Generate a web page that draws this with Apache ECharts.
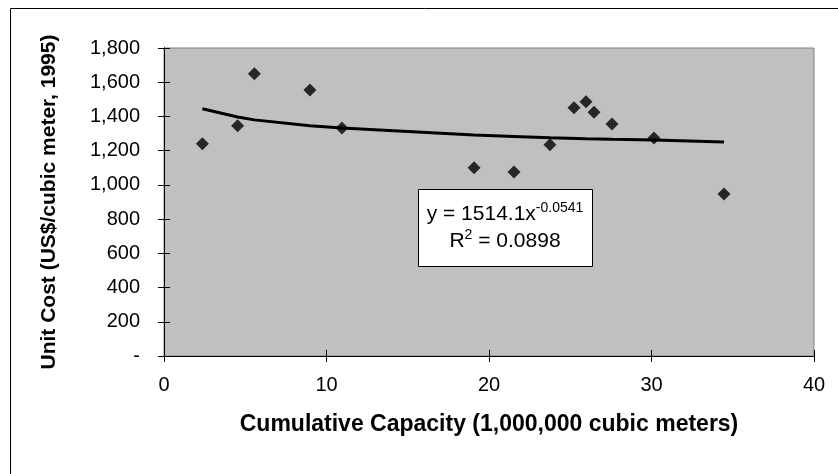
<!DOCTYPE html>
<html>
<head>
<meta charset="utf-8">
<script src="https://cdn.jsdelivr.net/npm/echarts@6/dist/echarts.min.js"></script>
<style>html,body{margin:0;padding:0;background:#fff}#c{width:838px;height:474px}</style>
</head>
<body>
<div id="c"></div>
<script>
var capacity = [2.36, 4.53, 5.56, 8.98, 10.95, 19.08, 21.54, 23.75, 25.23, 25.97, 26.46, 27.57, 30.15, 34.46];
var unitCost = [1240, 1345, 1650, 1555, 1333, 1100, 1075, 1235, 1451, 1486, 1424, 1356, 1274, 947];
// Trend line values
var trendX = [2.36, 4.53, 5.56, 8.98, 10.95, 19.08, 21.54, 23.75, 25.97, 27.57, 30.15, 34.46];
var trendY = [1445, 1397, 1380, 1345, 1333, 1291, 1283, 1276, 1270, 1266, 1262, 1250];
var xTicks = [0, 10, 20, 30, 40];
var yTicks = [0, 200, 400, 600, 800, 1000, 1200, 1400, 1600, 1800];
var eqLine1 = 'y = 1514.1x';
var eqExp = '-0.0541';
var eqLine2a = 'R';
var eqLine2b = '2';
var eqLine2c = ' = 0.0898';
var xTitle = 'Cumulative Capacity (1,000,000 cubic meters)';
var yTitle = 'Unit Cost (US$/cubic meter, 1995)';

var FONT = '"Liberation Sans", Arial, sans-serif';
var chart = echarts.init(document.getElementById('c'), null, {renderer: 'canvas'});

function yFmt(v) { return v === 0 ? '-' : v.toLocaleString('en-US'); }

var scatterData = capacity.map(function (x, i) { return [x, unitCost[i]]; });
var trendData = trendX.map(function (x, i) { return [x, trendY[i]]; });

var baseX = {
  type: 'value', min: xTicks[0], max: xTicks[xTicks.length - 1], interval: 10,
  position: 'bottom',
  splitLine: {show: false},
  axisLine: {show: true, onZero: false, lineStyle: {color: '#000', width: 1}}
};
var baseY = {
  type: 'value', min: yTicks[0], max: yTicks[yTicks.length - 1], interval: 200,
  position: 'left',
  splitLine: {show: false},
  axisLine: {show: true, onZero: false, lineStyle: {color: '#000', width: 1}}
};

chart.setOption({
  animation: false,
  backgroundColor: '#fff',
  textStyle: {fontFamily: FONT},
  grid: {
    left: 164, right: 24, top: 48, bottom: 118,
    show: true, backgroundColor: '#C0C0C0', borderColor: '#808080', borderWidth: 1
  },
  xAxis: [
    Object.assign({}, baseX, {
      axisTick: {show: true, inside: false, length: 6, lineStyle: {color: '#000'}},
      axisLabel: {color: '#000', fontSize: 20, margin: 19, fontFamily: FONT},
      name: xTitle, nameLocation: 'middle', nameGap: 57,
      nameTextStyle: {color: '#000', fontSize: 23, fontWeight: 'bold', fontFamily: FONT}
    }),
    Object.assign({}, baseX, {
      axisTick: {show: true, inside: true, length: 6, lineStyle: {color: '#000'}},
      axisLabel: {show: false}
    })
  ],
  yAxis: [
    Object.assign({}, baseY, {
      axisTick: {show: true, inside: false, length: 6, lineStyle: {color: '#000'}},
      axisLabel: {color: '#000', fontSize: 20, margin: 24, formatter: yFmt, fontFamily: FONT},
      name: yTitle, nameLocation: 'middle', nameGap: 104, nameRotate: 90,
      nameTextStyle: {color: '#000', fontSize: 21, fontWeight: 'bold', fontFamily: FONT}
    }),
    Object.assign({}, baseY, {
      axisTick: {show: true, inside: true, length: 6, lineStyle: {color: '#000'}},
      axisLabel: {show: false}
    })
  ],
  series: [
    {
      type: 'line', data: trendData, xAxisIndex: 0, yAxisIndex: 0,
      showSymbol: false, symbol: 'none',
      lineStyle: {color: '#000', width: 3}, z: 2
    },
    {
      type: 'scatter', data: scatterData, xAxisIndex: 0, yAxisIndex: 0,
      symbol: 'diamond', symbolSize: 13,
      itemStyle: {color: '#000'}, z: 3
    }
  ],
  graphic: [
    {
      type: 'rect', silent: true, z: -1,
      shape: {x: 10.5, y: 8.5, width: 900, height: 600},
      style: {fill: 'none', stroke: '#000', lineWidth: 1}
    },
    {
      type: 'rect', silent: true, z: 10,
      shape: {x: 418.5, y: 189.5, width: 174, height: 77},
      style: {fill: '#fff', stroke: '#000', lineWidth: 1}
    },
    {
      type: 'text', silent: true, z: 11,
      x: 505, y: 228,
      style: {
        text: '{m|' + eqLine1 + '}{s|' + eqExp + '}\n{m|' + eqLine2a + '}{s|' + eqLine2b + '}{m|' + eqLine2c + '}',
        align: 'center', verticalAlign: 'middle', fill: '#000',
        font: '21px ' + FONT,
        rich: {
          m: {fontSize: 21, lineHeight: 27, fontFamily: FONT, fill: '#000'},
          s: {fontSize: 14, lineHeight: 27, fontFamily: FONT, fill: '#000', verticalAlign: 'top'}
        }
      }
    }
  ]
});
</script>
</body>
</html>
